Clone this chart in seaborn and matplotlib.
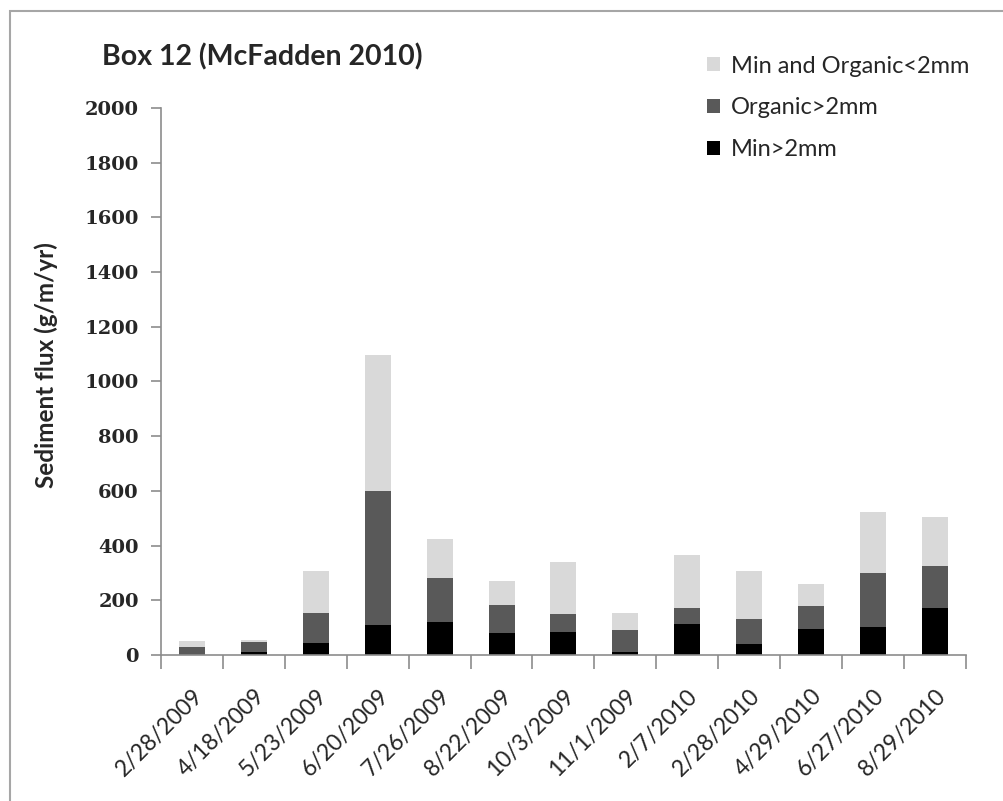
import matplotlib
matplotlib.use("Agg")
import matplotlib.pyplot as plt
from matplotlib.patches import Rectangle, Patch
from matplotlib.ticker import FixedLocator, NullFormatter
import numpy as np
import pandas as pd
import seaborn as sns

# Sampling dates (box 12)
dates = ["2/28/2009", "4/18/2009", "5/23/2009", "6/20/2009", "7/26/2009",
         "8/22/2009", "10/3/2009", "11/1/2009", "2/7/2010", "2/28/2010",
         "4/29/2010", "6/27/2010", "8/29/2010"]

# Sediment flux components, g/m/yr
min_gt2 = [1, 11, 43, 108, 120, 79, 84, 10, 113, 39, 96, 102, 172]
organic_gt2 = [28, 37, 112, 492, 163, 104, 65, 80, 60, 93, 82, 199, 153]
fine_lt2 = [22, 8, 152, 497, 140, 89, 192, 65, 193, 175, 82, 222, 181]

series_names = ["Min and Organic<2mm", "Organic>2mm", "Min>2mm"]
series_colors = {"Min>2mm": "#000000",
                 "Organic>2mm": "#595959",
                 "Min and Organic<2mm": "#d9d9d9"}

yticks = list(range(0, 2001, 200))

df = pd.DataFrame({"date": dates,
                   "min": min_gt2,
                   "org": organic_gt2,
                   "fine": fine_lt2})
df["base_org"] = df["min"]
df["base_fine"] = df["min"] + df["org"]

sns.set_style("white")
sans = ["Lato", "DejaVu Sans"]
serif = ["DejaVu Serif"]

fig = plt.figure(figsize=(10.04, 8.01), dpi=100)
ax = fig.add_axes([0.1604, 0.1823, 0.962 - 0.1604, 0.8652 - 0.1823])

bar_w = 0.42
sns.barplot(data=df, x="date", y="min", order=dates, color=series_colors["Min>2mm"],
            width=bar_w, saturation=1, ax=ax, linewidth=0, errorbar=None)
sns.barplot(data=df, x="date", y="org", order=dates, color=series_colors["Organic>2mm"],
            bottom=df["base_org"].values, width=bar_w, saturation=1, ax=ax,
            linewidth=0, errorbar=None)
sns.barplot(data=df, x="date", y="fine", order=dates,
            color=series_colors["Min and Organic<2mm"],
            bottom=df["base_fine"].values, width=bar_w, saturation=1, ax=ax,
            linewidth=0, errorbar=None)

ax.set_xlim(-0.5, len(dates) - 0.5)
ax.set_ylim(0, 2000)
ax.set_xlabel("")

axis_col = "#8c8c8c"
for side in ["top", "right"]:
    ax.spines[side].set_visible(False)
for side in ["left", "bottom"]:
    ax.spines[side].set_color(axis_col)
    ax.spines[side].set_linewidth(1.2)

ax.set_yticks(yticks)
ax.set_yticklabels([str(v) for v in yticks])
ax.tick_params(axis="y", direction="out", length=7, width=1.2, color=axis_col,
               left=True, pad=9)

# category labels centred under bars, tick marks between categories
ax.set_xticks(range(len(dates)))
ax.set_xticklabels(dates)
ax.tick_params(axis="x", which="major", length=0, pad=22)
ax.xaxis.set_minor_locator(FixedLocator(np.arange(-0.5, len(dates), 1.0)))
ax.xaxis.set_minor_formatter(NullFormatter())
ax.tick_params(axis="x", which="minor", direction="out", length=10, width=1.2,
               color=axis_col, bottom=True)

for lab in ax.get_yticklabels():
    lab.set_fontfamily(serif)
    lab.set_fontweight("bold")
    lab.set_fontsize(14)
for lab in ax.get_xticklabels():
    lab.set_fontfamily(sans)
    lab.set_fontsize(16.5)
    lab.set_rotation(45)
    lab.set_ha("right")
    lab.set_rotation_mode("anchor")

ax.set_ylabel("Sediment flux (g/m/yr)", fontsize=17.5, fontweight="bold",
              family=sans)
ax.yaxis.set_label_coords(-0.128, 0.53)

fig.text(0.261, 0.929, "Box 12 (McFadden 2010)", ha="center", va="center",
         fontsize=20.5, fontweight="bold", family=sans)

handles = [Patch(facecolor=series_colors[n], edgecolor="none", label=n)
           for n in series_names]
fig.legend(handles=handles, loc="upper left", bbox_to_anchor=(0.683, 0.957),
           frameon=False, prop={"family": sans, "size": 17},
           handlelength=0.55, handleheight=0.55, handletextpad=0.45,
           labelspacing=0.88)

# chart frame
fig.patches.append(Rectangle((10 / 1004, -0.05), 1.1, 1 - 11 / 801 + 0.05,
                             transform=fig.transFigure, fill=False,
                             edgecolor="#a6a6a6", linewidth=1.5))

fig.savefig("out.png", dpi=100)
